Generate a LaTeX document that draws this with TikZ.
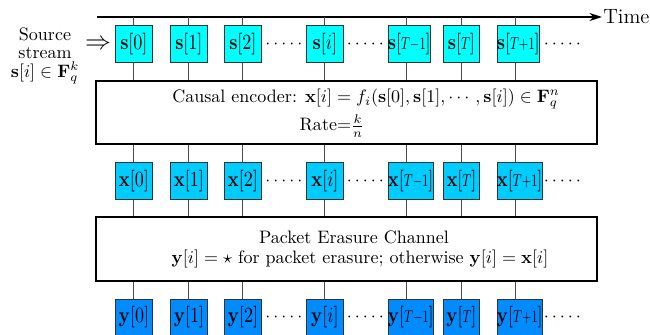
\documentclass[tikz,border=0pt]{standalone}
\usepackage{tikz}
\usetikzlibrary{positioning,arrows.meta}
\usepackage{amsmath}
\usepackage{graphicx}
\definecolor{srccyan}{RGB}{0,255,255}
\definecolor{codeblue}{RGB}{0,204,255}
\definecolor{recvblue}{RGB}{0,140,255}
\newcommand{\tidx}[1]{\scalebox{0.68}[0.8]{$#1$}}
\newcommand{\celltext}[1]{\scalebox{1}[1.2]{$#1$}}

\begin{document}
\begin{tikzpicture}
    [x=0.555pt, y=-0.555pt,
    cell/.style={draw=black!80, line width=0.5pt, minimum width=20.5pt,
    minimum height=20.5pt, inner xsep=0pt, anchor=west},
    bigbox/.style={draw=black, line width=1.1pt, minimum width=278pt},
    tick/.style={draw=black!70, line width=0.5pt},
    plain/.style={inner sep=1pt},
    dotsnode/.style={inner sep=0pt}]
    \useasboundingbox (0,0) rectangle (650,334);
    \coordinate (ax0) at (97,17);
    \node (time) [anchor=west, inner sep=0.5pt, font=\fontsize{11.5}{14}\selectfont] at (602,17) {Time};
    \draw[line width=0.8pt, -{Stealth[length=7pt,width=4.5pt]}] (ax0) -- (time.west);
    \node (src) [plain, align=center, font=\fontsize{10}{10.3}\selectfont] at (45,56)
        {Source\\stream\\$\mathbf{s}[i]\in\mathbf{F}_q^k$};
    \node (arr) [font=\fontsize{14.5}{16}\selectfont, inner sep=0pt] at (98,45) {$\Rightarrow$};
    \node (enc) [bigbox, minimum height=35pt] at (346.5,112.5) {};
    \node (encTop) [plain] at (366,99)
        {Causal encoder: $\mathbf{x}[i]=f_i(\mathbf{s}[0],\mathbf{s}[1],\cdots,\mathbf{s}[i])\in\mathbf{F}_q^n$};
    \node (encRate) [plain] at (332,126) {Rate=$\frac{k}{n}$};
    \node (chan) [bigbox, minimum height=35.5pt] at (346.5,249) {};
    \node (chanTop) [plain] at (354,237) {Packet Erasure Channel};
    \node (chanRule) [plain] at (360,259)
        {$\mathbf{y}[i]=\star$ for packet erasure; otherwise $\mathbf{y}[i]=\mathbf{x}[i]$};
    \foreach \rw/\yy/\col in {s/44/srccyan, x/181/codeblue, y/317.5/recvblue} {
        \foreach \i/\tx/\lab in {0/133.5/0, 1/188.5/1, 2/242.5/2, i/324.5/i,
            a/406/\tidx{T{-}1}, b/461/\tidx{T}, c/515/\tidx{T{+}1}} {
            \node (\rw\i) [cell, fill=\col] at ({\tx-18.5},\yy) {\celltext{\mathbf{\rw}[\lab]}};
        }
        \foreach \j/\tx in {1/284, 2/365.5, 3/562.5} {
            \node (dots\rw\j) [dotsnode] at (\tx,\yy) {$\cdotp\cdotp\cdotp\cdotp\cdotp$};
        }
    }
    \foreach \i/\tx in {0/133.5, 1/188.5, 2/242.5, i/324.5, a/406, b/461, c/515} {
        \coordinate (t\i) at (\tx,17);
        \draw[tick] (t\i) -- (t\i |- s\i.north);
        \draw[tick] (t\i |- s\i.south) -- (t\i |- enc.north);
        \draw[tick] (t\i |- enc.south) -- (t\i |- x\i.north);
        \draw[tick] (t\i |- x\i.south) -- (t\i |- chan.north);
        \draw[tick] (t\i |- chan.south) -- (t\i |- y\i.north);
    }
\end{tikzpicture}
\end{document}
